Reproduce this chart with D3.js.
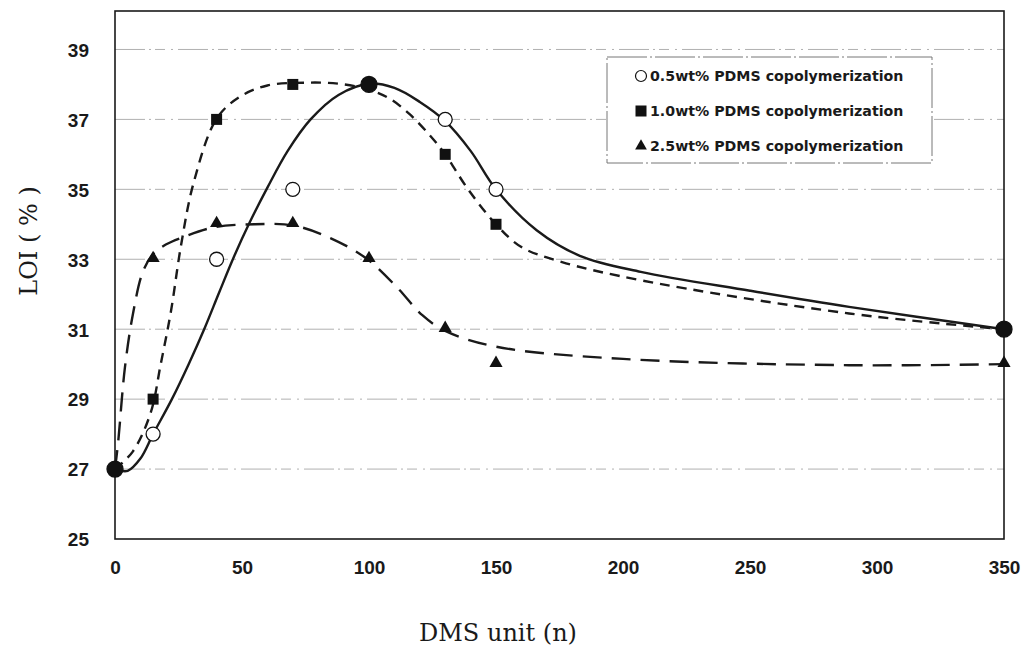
<!DOCTYPE html>
<html><head><meta charset="utf-8">
<script src="https://cdn.jsdelivr.net/npm/d3@7"></script>
<style>
html,body{margin:0;padding:0;background:#fff;}
svg{display:block;}
</style></head>
<body>
<svg id="chart" width="1021" height="647"></svg>
<script>
// ---------- data ----------
const dmsUnits = [0, 15, 40, 70, 100, 130, 150, 350];
const loi05 = [27, 28, 33, 35, 38, 37, 35, 31];
const loi10 = [27, 29, 37, 38, 38, 36, 34, 31];
const loi25 = [27, 33, 34, 34, 33, 31, 30, 30];
const seriesNames = ["0.5wt% PDMS copolymerization", "1.0wt% PDMS copolymerization", "2.5wt% PDMS copolymerization"];
// smoothed trend curves
const fit05X = [0, 5, 10, 15, 22.4, 29, 35.4, 41, 47, 53, 60, 68, 77, 88, 100, 110, 120, 130, 140, 150, 166, 183, 207, 250, 289, 350];
const fit05Y = [27, 26.95, 27.3, 28, 29, 30, 31.05, 32.05, 33.1, 34.05, 35.05, 36.1, 37, 37.7, 38.02, 37.9, 37.5, 36.95, 36.1, 35, 33.83, 33.1, 32.64, 32.1, 31.64, 31];
const fit10X = [0, 7, 14, 18, 22, 26, 31, 40, 49, 60, 75, 88, 100, 108, 116, 124, 130, 139, 150, 160, 176, 207, 289, 350];
const fit10Y = [27, 27.5, 28.6, 30, 31.5, 33.4, 35.2, 37.02, 37.64, 37.97, 38.05, 38.02, 37.85, 37.6, 37.15, 36.54, 36, 35, 34, 33.35, 32.92, 32.4, 31.45, 31];
const fit25X = [0, 1.2, 3.9, 7.1, 11, 15, 20, 27, 39.4, 55, 70, 85, 99, 111, 121, 130, 150, 200, 289, 350];
const fit25Y = [27, 27.74, 29.9, 31.45, 32.65, 33.15, 33.42, 33.64, 33.92, 34, 33.97, 33.6, 33.02, 32.2, 31.4, 30.95, 30.5, 30.15, 29.97, 30];
const xTicks = [0, 50, 100, 150, 200, 250, 300, 350];
const yTicks = [25, 27, 29, 31, 33, 35, 37, 39];
const yGrid = [27, 29, 31, 33, 35, 37, 39];
const xTitle = "DMS unit (n)";
const yTitle = "LOI ( % )";

// ---------- layout ----------
const svg = d3.select("#chart");
const L = 115, R = 1004, T = 11, B = 539;
const x = d3.scaleLinear().domain([0, 350]).range([L, R]);
const y = d3.scaleLinear().domain([25, 40.1]).range([B, T]);

// grid
svg.append("g").selectAll("line").data(yGrid).join("line")
  .attr("x1", L).attr("x2", R)
  .attr("y1", d => y(d)).attr("y2", d => y(d))
  .attr("stroke", "#b0b0b0").attr("stroke-width", 1)
  .attr("stroke-dasharray", "30,4,2,4,10,6,2,5");

// axes (labels only)
const xAxis = svg.append("g").attr("transform", `translate(0,${B})`)
  .call(d3.axisBottom(x).tickValues(xTicks).tickSize(0).tickPadding(22).tickFormat(d3.format("d")));
const yAxis = svg.append("g").attr("transform", `translate(${L},0)`)
  .call(d3.axisLeft(y).tickValues(yTicks).tickSize(0).tickPadding(26).tickFormat(d3.format("d")));
[xAxis, yAxis].forEach(g => {
  g.select(".domain").remove();
  g.selectAll("text").attr("font-family", "'Liberation Sans', Arial, sans-serif")
    .attr("font-weight", "bold").attr("font-size", 19).attr("fill", "#1a1a1a");
});
yAxis.selectAll("text").attr("dy", "0.36em");

// frame
svg.append("rect").attr("x", L).attr("y", T).attr("width", R - L).attr("height", B - T)
  .attr("fill", "none").attr("stroke", "#1a1a1a").attr("stroke-width", 1.6);

// curves
const line = d3.line().x(d => x(d[0])).y(d => y(d[1])).curve(d3.curveCatmullRom.alpha(0.5));
const fits = [
  {xs: fit05X, ys: fit05Y, dash: null},
  {xs: fit10X, ys: fit10Y, dash: "10,7"},
  {xs: fit25X, ys: fit25Y, dash: "19,10"}
];
svg.append("g").selectAll("path").data(fits).join("path")
  .attr("d", f => line(f.xs.map((v, i) => [v, f.ys[i]])))
  .attr("fill", "none").attr("stroke", "#1a1a1a").attr("stroke-width", 2.4)
  .attr("stroke-dasharray", f => f.dash);

// markers
const pts25 = dmsUnits.map((v, i) => [v, loi25[i]]);
const pts10 = dmsUnits.map((v, i) => [v, loi10[i]]);
const pts05 = dmsUnits.map((v, i) => [v, loi05[i]]);
const tri = d3.symbol().type(d3.symbolTriangle).size(75);
svg.append("g").selectAll("path").data(pts25).join("path")
  .attr("transform", d => `translate(${x(d[0])},${y(d[1]) - 1})`)
  .attr("d", tri).attr("fill", "#111");
const sq = 11;
svg.append("g").selectAll("rect").data(pts10).join("rect")
  .attr("x", d => x(d[0]) - sq / 2).attr("y", d => y(d[1]) - sq / 2)
  .attr("width", sq).attr("height", sq).attr("fill", "#111");
// circles: filled where the 0.5 wt% point coincides with the 1.0 wt% point
svg.append("g").selectAll("circle").data(pts05).join("circle")
  .attr("cx", d => x(d[0])).attr("cy", d => y(d[1]))
  .attr("r", (d, i) => d[1] === loi10[i] ? 8 : 7)
  .attr("fill", (d, i) => d[1] === loi10[i] ? "#111" : "#fff")
  .attr("stroke", "#111").attr("stroke-width", 1.3);

// legend
const lg = svg.append("g");
lg.append("rect").attr("x", 607).attr("y", 57).attr("width", 325).attr("height", 106)
  .attr("fill", "#fff").attr("stroke", "#777").attr("stroke-width", 1)
  .attr("stroke-dasharray", "40,3,2,3");
const rows = lg.selectAll("g.row").data(seriesNames).join("g").attr("class", "row")
  .attr("transform", (d, i) => `translate(641,${76 + i * 35})`);
rows.each(function(d, i) {
  const g = d3.select(this);
  if (i === 0) g.append("circle").attr("r", 5.5).attr("fill", "#fff").attr("stroke", "#111").attr("stroke-width", 1.2);
  if (i === 1) g.append("rect").attr("x", -5.5).attr("y", -5.5).attr("width", 11).attr("height", 11).attr("fill", "#111");
  if (i === 2) g.append("path").attr("d", d3.symbol().type(d3.symbolTriangle).size(60)).attr("fill", "#111");
});
rows.append("text").attr("x", 9).attr("dy", "0.36em").text(d => d)
  .attr("font-family", "'DejaVu Sans', sans-serif").attr("font-weight", "bold")
  .attr("font-size", 14.2).attr("fill", "#1a1a1a");

// titles
svg.append("text").attr("x", 498).attr("y", 641).attr("text-anchor", "middle")
  .attr("font-family", "'DejaVu Serif', serif").attr("font-size", 24).attr("fill", "#1a1a1a")
  .text(xTitle);
svg.append("text").attr("transform", "translate(37,241) rotate(-90)").attr("text-anchor", "middle")
  .attr("font-family", "'DejaVu Serif', serif").attr("font-size", 24).attr("fill", "#1a1a1a")
  .text(yTitle);
</script>
</body></html>
